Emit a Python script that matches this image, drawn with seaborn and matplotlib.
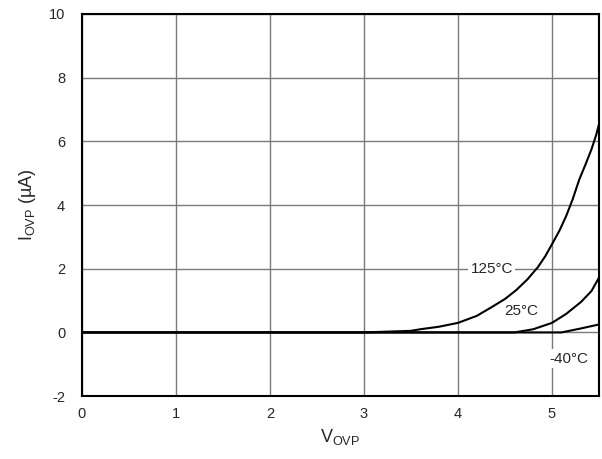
import matplotlib
matplotlib.use('Agg')
import matplotlib.pyplot as plt
import seaborn as sns
import pandas as pd

# curve data
x_125 = [0, 3.0, 3.5, 3.6, 3.8, 4.0, 4.2, 4.35, 4.5, 4.62, 4.74, 4.85, 4.93, 5.0, 5.08, 5.15, 5.22, 5.29, 5.36, 5.42, 5.47, 5.5]
y_125 = [0, 0, 0.05, 0.1, 0.18, 0.3, 0.52, 0.78, 1.05, 1.33, 1.67, 2.05, 2.4, 2.77, 3.2, 3.65, 4.18, 4.8, 5.3, 5.75, 6.2, 6.54]
x_25 = [0, 4.6, 4.8, 5.0, 5.15, 5.31, 5.42, 5.5]
y_25 = [0, 0, 0.1, 0.3, 0.58, 0.96, 1.3, 1.72]
x_m40 = [0, 5.1, 5.3, 5.5]
y_m40 = [0, 0, 0.12, 0.25]

x_ticks = [0, 1, 2, 3, 4, 5]
y_ticks = [-2, 0, 2, 4, 6, 8, 10]

sns.set_style('white')
plt.rcParams['font.family'] = ['Liberation Sans', 'DejaVu Sans']
plt.rcParams['axes.unicode_minus'] = False

fig = plt.figure(figsize=(6.02, 4.59), dpi=100)
ax = fig.add_axes([0.136, 0.137, 0.859, 0.8325])

for xs, ys in [(x_125, y_125), (x_25, y_25), (x_m40, y_m40)]:
    df = pd.DataFrame({'V': xs, 'I': ys})
    sns.lineplot(data=df, x='V', y='I', ax=ax, color='black', linewidth=1.5, sort=False, zorder=3)

ax.set_xlim(0, 5.5)
ax.set_ylim(-2, 10)
ax.set_xticks(x_ticks)
ax.set_yticks(y_ticks)
ax.grid(True, color='#7a7a7a', linewidth=1.0)
ax.set_axisbelow(True)
for s in ax.spines.values():
    s.set_color('black')
    s.set_linewidth(1.5)
ax.tick_params(axis='both', length=0, labelsize=10.5, pad=8)
ax.tick_params(axis='y', pad=12)

ax.set_xlabel('$\\mathregular{V_{OVP}}$', fontsize=13, labelpad=4)
ax.set_ylabel('$\\mathregular{I_{OVP}}$ (µA)', fontsize=13, labelpad=8)

# labels sit over the grid but under the curves
box = dict(facecolor='white', edgecolor='none', pad=1.5)
ax.text(4.36, 2.0, '125°C', fontsize=11, ha='center', va='center', bbox=box, zorder=2)
ax.text(4.67, 0.66, '25°C', fontsize=11, ha='center', va='center', bbox=box, zorder=2)
ax.text(5.18, -0.82, '-40°C', fontsize=11, ha='center', va='center', bbox=box, zorder=2)

fig.savefig('out.png', dpi=100)
